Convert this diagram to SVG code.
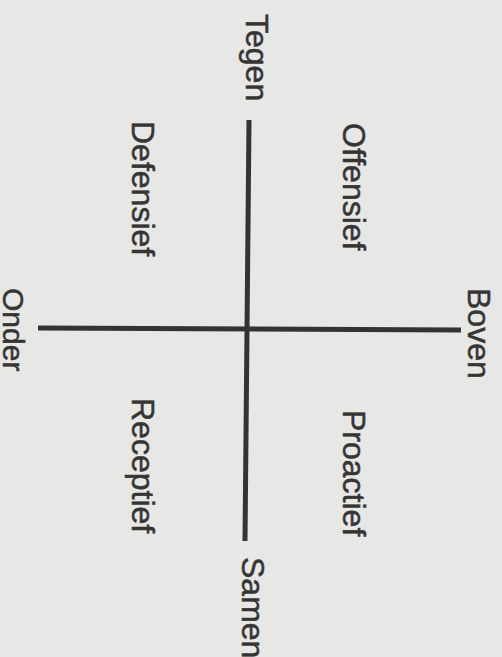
<svg xmlns="http://www.w3.org/2000/svg" width="502" height="657" viewBox="0 0 502 657">
<style>
.lbl{font-family:"Liberation Sans",Arial,sans-serif;font-size:32px;fill:#353535;stroke:#353535;stroke-width:0.5}
.axis{stroke:#333333;stroke-width:5;fill:none}
</style>
<rect x="0" y="0" width="502" height="657" fill="#e7e7e5"/>
<g id="connectors">
<line class="axis" x1="249" y1="120" x2="245" y2="541"/>
<line class="axis" x1="38" y1="328" x2="461" y2="330"/>
</g>
<g id="tegen"><text class="lbl" transform="translate(246,14) rotate(90)">Tegen</text></g>
<g id="samen"><text class="lbl" transform="translate(242,557) rotate(90)">Samen</text></g>
<g id="boven"><text class="lbl" transform="translate(468,288) rotate(90)">Boven</text></g>
<g id="onder"><text class="lbl" style="font-size:30px" transform="translate(3,288) rotate(90)">Onder</text></g>
<g id="offensief"><text class="lbl" transform="translate(343,123) rotate(90)">Offensief</text></g>
<g id="defensief"><text class="lbl" transform="translate(132,121) rotate(90)">Defensief</text></g>
<g id="proactief"><text class="lbl" transform="translate(343,410) rotate(90)">Proactief</text></g>
<g id="receptief"><text class="lbl" transform="translate(132,398) rotate(90)">Receptief</text></g>
</svg>
